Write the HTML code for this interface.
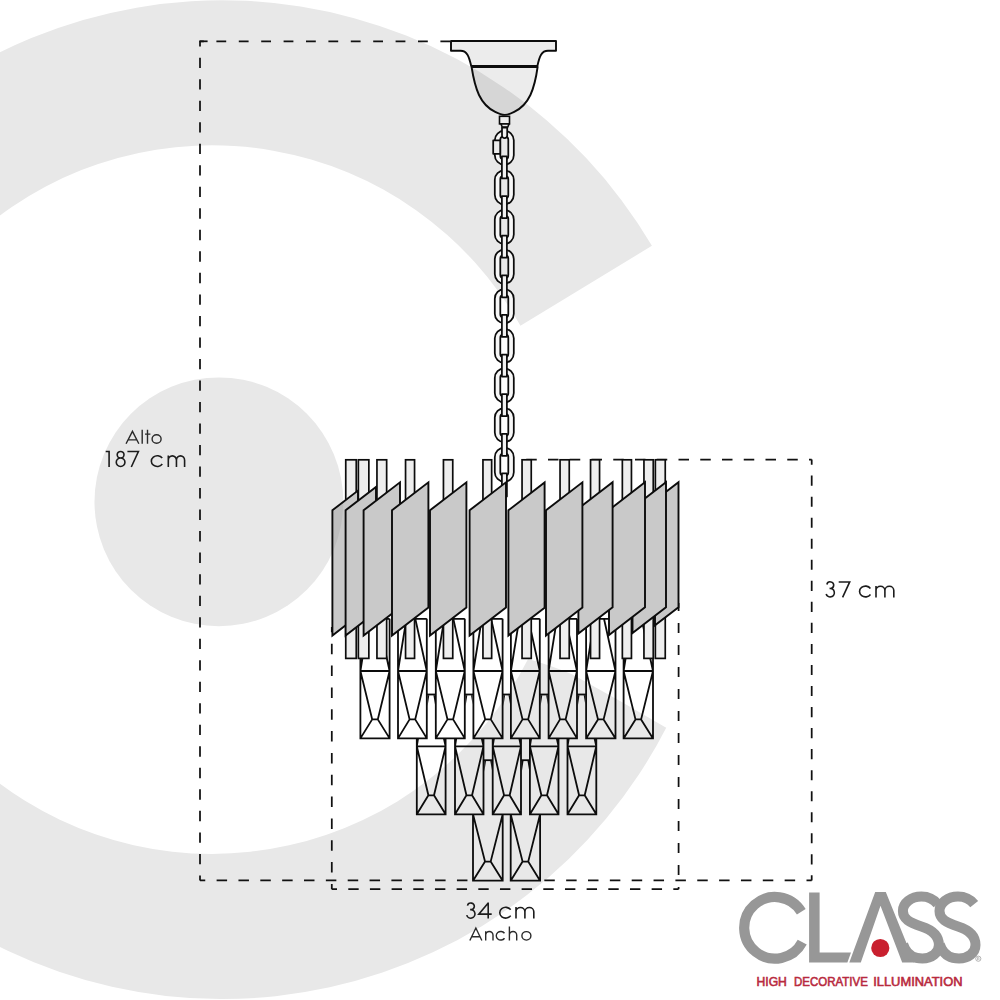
<!DOCTYPE html>
<html><head><meta charset="utf-8"><style>html,body{margin:0;padding:0;background:#fff}svg{display:block}text{font-family:"Liberation Sans",sans-serif}</style></head><body>
<svg width="1000" height="1000" viewBox="0 0 1000 1000">
<rect width="1000" height="1000" fill="#fff"/>
<path d="M666.23,727.66 A499.4,499.4 0 1 1 651.93,245.78 L520.43,325.78 A354.3,354.3 0 1 0 528.08,659.07 Q548,664.5 572,674.2 L620,701 Z" fill="#e8e8e8"/>
<circle cx="218.9" cy="501.8" r="124.4" fill="#e8e8e8"/>
<g stroke="#111" stroke-width="1.75" fill="none">
<path d="M200.0,41.3 L200.0,880.4" stroke-dasharray="10.33 11.19" stroke-dashoffset="5.16"/>
<path d="M200,41.3 H450.2" stroke-dasharray="9.8 12.6" stroke-dashoffset="6"/><path d="M199.2,41.3 H207.6"/>
<path d="M200,880.4 H473" stroke-dasharray="10.49 11.36" stroke-dashoffset="5.24"/>
<path d="M540.5,880.4 H811.7" stroke-dasharray="10.49 11.36" stroke-dashoffset="18.05"/>
<path d="M331.8,889.2 L331.8,627.1" stroke-dasharray="10.48 11.36" stroke-dashoffset="5.24"/>
<path d="M331.8,889.2 L678.6,889.2" stroke-dasharray="10.40 11.27" stroke-dashoffset="5.20"/>
<path d="M678.6,889.2 V603" stroke-dasharray="10.2 11.8" stroke-dashoffset="7.9"/>
<path d="M811.7,459.6 L811.7,880.4" stroke-dasharray="10.10 10.94" stroke-dashoffset="5.05"/>
<path d="M811.7,459.6 H520" stroke-dasharray="10.5 11.25" stroke-dashoffset="7.8"/>
</g>
<g stroke="#0c0c0c" stroke-width="1.9" stroke-linejoin="round" fill="rgba(0,0,0,0.075)">
<path d="M451,41 H556 V50.8 H548 C541.5,50.8 539.5,56 537.4,66 H471.2 C469,56 467,50.8 460.5,50.8 H451 Z"/>
<path d="M471.6,67 C473.3,78 475.8,88 479,95 C482.8,103 488.3,108.6 495.2,111.9 C498.5,113.6 501.8,114.9 504.7,114.9 C507.6,114.9 510.9,113.6 514.2,111.9 C521.1,108.6 526.6,103 530.4,95 C533.6,88 536.1,78 537.6,67 Z"/>
</g>
<path d="M471,66.6 H537.5" stroke="#0c0c0c" stroke-width="2.4"/>
<g stroke="#0c0c0c" stroke-width="1.6" fill="#ededed">
<rect x="499.5" y="116.3" width="10" height="7.6"/>
<path d="M501,124 L502.2,127 H507.8 L509,124 Z"/>
</g>
<g stroke="#0c0c0c" stroke-width="1.75" stroke-linejoin="round">
<path d="M504.3,130.73 H504.29999999999995 A9.5,9.5 0 0 1 513.8,140.23 V155.23 A9.5,9.5 0 0 1 504.29999999999995,164.73 H504.3 A9.5,9.5 0 0 1 494.8,155.23 V140.23 A9.5,9.5 0 0 1 504.3,130.73 Z M503.3,136.57999999999998 H505.3 A3.0,3.0 0 0 1 508.3,139.57999999999998 V155.88 A3.0,3.0 0 0 1 505.3,158.88 H503.3 A3.0,3.0 0 0 1 500.3,155.88 V139.57999999999998 A3.0,3.0 0 0 1 503.3,136.57999999999998 Z" fill="#f7f7f7" fill-rule="evenodd"/>
<rect x="493.2" y="140.4" width="7" height="13.4" fill="#ededed"/>
<path d="M502,127.5 V135.5 A2.6,2.6 0 0 0 507.2,135.5 V127.5 Z" fill="#f1f1f1"/>
<path d="M504.3,170.35 H504.29999999999995 A9.5,9.5 0 0 1 513.8,179.85 V194.85 A9.5,9.5 0 0 1 504.29999999999995,204.35 H504.3 A9.5,9.5 0 0 1 494.8,194.85 V179.85 A9.5,9.5 0 0 1 504.3,170.35 Z M503.3,176.2 H505.3 A3.0,3.0 0 0 1 508.3,179.2 V195.5 A3.0,3.0 0 0 1 505.3,198.5 H503.3 A3.0,3.0 0 0 1 500.3,195.5 V179.2 A3.0,3.0 0 0 1 503.3,176.2 Z" fill="#f7f7f7" fill-rule="evenodd"/>
<path d="M504.3,209.97 H504.29999999999995 A9.5,9.5 0 0 1 513.8,219.47 V234.47 A9.5,9.5 0 0 1 504.29999999999995,243.97 H504.3 A9.5,9.5 0 0 1 494.8,234.47 V219.47 A9.5,9.5 0 0 1 504.3,209.97 Z M503.3,215.82 H505.3 A3.0,3.0 0 0 1 508.3,218.82 V235.12 A3.0,3.0 0 0 1 505.3,238.12 H503.3 A3.0,3.0 0 0 1 500.3,235.12 V218.82 A3.0,3.0 0 0 1 503.3,215.82 Z" fill="#f7f7f7" fill-rule="evenodd"/>
<path d="M504.3,249.58999999999997 H504.29999999999995 A9.5,9.5 0 0 1 513.8,259.09 V274.09 A9.5,9.5 0 0 1 504.29999999999995,283.59 H504.3 A9.5,9.5 0 0 1 494.8,274.09 V259.09 A9.5,9.5 0 0 1 504.3,249.58999999999997 Z M503.3,255.43999999999997 H505.3 A3.0,3.0 0 0 1 508.3,258.43999999999994 V274.73999999999995 A3.0,3.0 0 0 1 505.3,277.73999999999995 H503.3 A3.0,3.0 0 0 1 500.3,274.73999999999995 V258.43999999999994 A3.0,3.0 0 0 1 503.3,255.43999999999997 Z" fill="#f7f7f7" fill-rule="evenodd"/>
<path d="M504.3,289.21 H504.29999999999995 A9.5,9.5 0 0 1 513.8,298.71 V313.71 A9.5,9.5 0 0 1 504.29999999999995,323.21 H504.3 A9.5,9.5 0 0 1 494.8,313.71 V298.71 A9.5,9.5 0 0 1 504.3,289.21 Z M503.3,295.06 H505.3 A3.0,3.0 0 0 1 508.3,298.06 V314.36 A3.0,3.0 0 0 1 505.3,317.36 H503.3 A3.0,3.0 0 0 1 500.3,314.36 V298.06 A3.0,3.0 0 0 1 503.3,295.06 Z" fill="#f7f7f7" fill-rule="evenodd"/>
<path d="M504.3,328.83 H504.29999999999995 A9.5,9.5 0 0 1 513.8,338.33 V353.33 A9.5,9.5 0 0 1 504.29999999999995,362.83 H504.3 A9.5,9.5 0 0 1 494.8,353.33 V338.33 A9.5,9.5 0 0 1 504.3,328.83 Z M503.3,334.68 H505.3 A3.0,3.0 0 0 1 508.3,337.68 V353.98 A3.0,3.0 0 0 1 505.3,356.98 H503.3 A3.0,3.0 0 0 1 500.3,353.98 V337.68 A3.0,3.0 0 0 1 503.3,334.68 Z" fill="#f7f7f7" fill-rule="evenodd"/>
<path d="M504.3,368.45 H504.29999999999995 A9.5,9.5 0 0 1 513.8,377.95 V392.95 A9.5,9.5 0 0 1 504.29999999999995,402.45 H504.3 A9.5,9.5 0 0 1 494.8,392.95 V377.95 A9.5,9.5 0 0 1 504.3,368.45 Z M503.3,374.3 H505.3 A3.0,3.0 0 0 1 508.3,377.3 V393.6 A3.0,3.0 0 0 1 505.3,396.6 H503.3 A3.0,3.0 0 0 1 500.3,393.6 V377.3 A3.0,3.0 0 0 1 503.3,374.3 Z" fill="#f7f7f7" fill-rule="evenodd"/>
<path d="M504.3,408.06999999999994 H504.29999999999995 A9.5,9.5 0 0 1 513.8,417.56999999999994 V432.56999999999994 A9.5,9.5 0 0 1 504.29999999999995,442.06999999999994 H504.3 A9.5,9.5 0 0 1 494.8,432.56999999999994 V417.56999999999994 A9.5,9.5 0 0 1 504.3,408.06999999999994 Z M503.3,413.91999999999996 H505.3 A3.0,3.0 0 0 1 508.3,416.91999999999996 V433.21999999999997 A3.0,3.0 0 0 1 505.3,436.21999999999997 H503.3 A3.0,3.0 0 0 1 500.3,433.21999999999997 V416.91999999999996 A3.0,3.0 0 0 1 503.3,413.91999999999996 Z" fill="#f7f7f7" fill-rule="evenodd"/>
<path d="M504.3,447.68999999999994 H504.29999999999995 A9.5,9.5 0 0 1 513.8,457.18999999999994 V472.18999999999994 A9.5,9.5 0 0 1 504.29999999999995,481.68999999999994 H504.3 A9.5,9.5 0 0 1 494.8,472.18999999999994 V457.18999999999994 A9.5,9.5 0 0 1 504.3,447.68999999999994 Z M503.3,453.53999999999996 H505.3 A3.0,3.0 0 0 1 508.3,456.53999999999996 V472.84 A3.0,3.0 0 0 1 505.3,475.84 H503.3 A3.0,3.0 0 0 1 500.3,472.84 V456.53999999999996 A3.0,3.0 0 0 1 503.3,453.53999999999996 Z" fill="#f7f7f7" fill-rule="evenodd"/>
<rect x="501.9" y="156.48" width="5.0" height="22.0" fill="#f1f1f1"/>
<rect x="501.9" y="196.10" width="5.0" height="22.0" fill="#f1f1f1"/>
<rect x="501.9" y="235.72" width="5.0" height="22.0" fill="#f1f1f1"/>
<rect x="501.9" y="275.34" width="5.0" height="22.0" fill="#f1f1f1"/>
<rect x="501.9" y="314.96" width="5.0" height="22.0" fill="#f1f1f1"/>
<rect x="501.9" y="354.58" width="5.0" height="22.0" fill="#f1f1f1"/>
<rect x="501.9" y="394.20" width="5.0" height="22.0" fill="#f1f1f1"/>
<rect x="501.9" y="433.82" width="5.0" height="22.0" fill="#f1f1f1"/>
<rect x="501.9" y="473.44" width="5.0" height="23" fill="#f1f1f1"/>
</g>
<g stroke="#0c0c0c" stroke-width="1.8" fill="none" stroke-linejoin="miter">
<path d="M360.4,618.8 V738.4 H389.6 V618.8 M360.4,618.8 H389.6 M360.4,671.0 H389.6 M360.4,671.0 L368.80,618.8 M389.6,671.0 L378.10,618.8 M360.4,671.0 L372.2,719.4 H377.8 L389.6,671.0 M372.2,719.4 L360.4,738.4 M377.8,719.4 L389.6,738.4"/>
<path d="M398.0,618.8 V738.4 H426.8 V618.8 M398.0,618.8 H426.8 M398.0,671.0 H426.8 M398.0,671.0 L406.40,618.8 M426.8,671.0 L415.30,618.8 M398.0,671.0 L409.59999999999997,719.4 H415.2 L426.8,671.0 M409.59999999999997,719.4 L398.0,738.4 M415.2,719.4 L426.8,738.4"/>
<path d="M435.8,618.8 V738.4 H464.8 V618.8 M435.8,618.8 H464.8 M435.8,671.0 H464.8 M435.8,671.0 L444.20,618.8 M464.8,671.0 L453.30,618.8 M435.8,671.0 L447.5,719.4 H453.1 L464.8,671.0 M447.5,719.4 L435.8,738.4 M453.1,719.4 L464.8,738.4"/>
<path d="M473.4,618.8 V738.4 H502.6 V618.8 M473.4,618.8 H502.6 M473.4,671.0 H502.6 M473.4,671.0 L481.80,618.8 M502.6,671.0 L491.10,618.8 M473.4,671.0 L485.2,719.4 H490.8 L502.6,671.0 M485.2,719.4 L473.4,738.4 M490.8,719.4 L502.6,738.4"/>
<path d="M510.9,618.8 V738.4 H539.8 V618.8 M510.9,618.8 H539.8 M510.9,671.0 H539.8 M510.9,671.0 L519.30,618.8 M539.8,671.0 L528.30,618.8 M510.9,671.0 L522.55,719.4 H528.1499999999999 L539.8,671.0 M522.55,719.4 L510.9,738.4 M528.1499999999999,719.4 L539.8,738.4"/>
<path d="M548.6,618.8 V738.4 H577.0 V618.8 M548.6,618.8 H577.0 M548.6,671.0 H577.0 M548.6,671.0 L557.00,618.8 M577.0,671.0 L565.50,618.8 M548.6,671.0 L560.0,719.4 H565.5999999999999 L577.0,671.0 M560.0,719.4 L548.6,738.4 M565.5999999999999,719.4 L577.0,738.4"/>
<path d="M586.1,618.8 V738.4 H615.5 V618.8 M586.1,618.8 H615.5 M586.1,671.0 H615.5 M586.1,671.0 L594.50,618.8 M615.5,671.0 L604.00,618.8 M586.1,671.0 L598.0,719.4 H603.5999999999999 L615.5,671.0 M598.0,719.4 L586.1,738.4 M603.5999999999999,719.4 L615.5,738.4"/>
<path d="M623.6,618.8 V738.4 H653.0 V618.8 M623.6,618.8 H653.0 M623.6,671.0 H653.0 M623.6,671.0 L632.00,618.8 M653.0,671.0 L641.50,618.8 M623.6,671.0 L635.5,719.4 H641.0999999999999 L653.0,671.0 M635.5,719.4 L623.6,738.4 M641.0999999999999,719.4 L653.0,738.4"/>
<path d="M426.8,694.5 H435.8"/>
<path d="M427.6,695.3 H429.3 L427.6,706.0 Z M435.0,695.3 H433.40000000000003 L435.0,704.5 Z" fill="#0c0c0c" stroke="none"/>
<path d="M464.8,694.5 H473.4"/>
<path d="M465.6,695.3 H467.3 L465.6,706.0 Z M472.59999999999997,695.3 H471.0 L472.59999999999997,704.5 Z" fill="#0c0c0c" stroke="none"/>
<path d="M502.6,694.5 H510.9"/>
<path d="M503.40000000000003,695.3 H505.1 L503.40000000000003,706.0 Z M510.09999999999997,695.3 H508.5 L510.09999999999997,704.5 Z" fill="#0c0c0c" stroke="none"/>
<path d="M539.8,694.5 H548.6"/>
<path d="M540.5999999999999,695.3 H542.3 L540.5999999999999,706.0 Z M547.8000000000001,695.3 H546.2 L547.8000000000001,704.5 Z" fill="#0c0c0c" stroke="none"/>
<path d="M577.0,694.5 H586.1"/>
<path d="M577.8,695.3 H579.5 L577.8,706.0 Z M585.3000000000001,695.3 H583.7 L585.3000000000001,704.5 Z" fill="#0c0c0c" stroke="none"/>
<path d="M416.8,738.4 V814.3 H445.6 V738.4 M416.8,746.3 H445.6 M416.8,746.3 L418.08,738.4 M445.6,746.3 L443.85,738.4 M416.8,746.3 L428.40000000000003,795.3 H434.00000000000006 L445.6,746.3 M428.40000000000003,795.3 L416.8,814.3 M434.00000000000006,795.3 L445.6,814.3"/>
<path d="M455.0,738.4 V814.3 H483.5 V738.4 M455.0,746.3 H483.5 M455.0,746.3 L456.28,738.4 M483.5,746.3 L481.75,738.4 M455.0,746.3 L466.45,795.3 H472.05 L483.5,746.3 M466.45,795.3 L455.0,814.3 M472.05,795.3 L483.5,814.3"/>
<path d="M492.7,738.4 V814.3 H521.0 V738.4 M492.7,746.3 H521.0 M492.7,746.3 L493.98,738.4 M521.0,746.3 L519.25,738.4 M492.7,746.3 L504.05,795.3 H509.65000000000003 L521.0,746.3 M504.05,795.3 L492.7,814.3 M509.65000000000003,795.3 L521.0,814.3"/>
<path d="M529.9,738.4 V814.3 H558.5 V738.4 M529.9,746.3 H558.5 M529.9,746.3 L531.18,738.4 M558.5,746.3 L556.75,738.4 M529.9,746.3 L541.4000000000001,795.3 H547.0 L558.5,746.3 M541.4000000000001,795.3 L529.9,814.3 M547.0,795.3 L558.5,814.3"/>
<path d="M567.5,738.4 V814.3 H596.3 V738.4 M567.5,746.3 H596.3 M567.5,746.3 L568.78,738.4 M596.3,746.3 L594.55,738.4 M567.5,746.3 L579.1,795.3 H584.6999999999999 L596.3,746.3 M579.1,795.3 L567.5,814.3 M584.6999999999999,795.3 L596.3,814.3"/>
<path d="M483.5,760.2 H492.7"/>
<path d="M484.3,761.0 H486.0 L484.3,771.7 Z M491.9,761.0 H490.3 L491.9,770.2 Z" fill="#0c0c0c" stroke="none"/>
<path d="M521.0,760.2 H529.9"/>
<path d="M521.8,761.0 H523.5 L521.8,771.7 Z M529.1,761.0 H527.5 L529.1,770.2 Z" fill="#0c0c0c" stroke="none"/>
<path d="M473.0,814.3 V880.7 H502.7 V814.3 M473.0,814.3 L485.05,861.6 H490.65000000000003 L502.7,814.3 M485.05,861.6 L473.0,880.7 M490.65000000000003,861.6 L502.7,880.7"/>
<path d="M510.7,814.3 V880.7 H540.1 V814.3 M510.7,814.3 L522.6,861.6 H528.1999999999999 L540.1,814.3 M522.6,861.6 L510.7,880.7 M528.1999999999999,861.6 L540.1,880.7"/>
</g>
<g stroke="#0c0c0c" stroke-width="1.7" fill="#eeeeee">
<rect x="345.75" y="459.8" width="10.50" height="198.6"/>
<rect x="358.35" y="459.8" width="10.50" height="198.6"/>
<rect x="376.95" y="459.8" width="9.70" height="198.6"/>
<rect x="405.55" y="459.8" width="9.00" height="198.6"/>
<rect x="443.45" y="459.8" width="9.30" height="198.6"/>
<rect x="482.95" y="459.8" width="8.70" height="198.6"/>
<rect x="522.05" y="459.8" width="9.20" height="198.6"/>
<rect x="560.05" y="459.8" width="9.20" height="198.6"/>
<rect x="590.55" y="459.8" width="9.00" height="198.6"/>
<rect x="622.35" y="459.8" width="9.10" height="198.6"/>
<rect x="643.95" y="459.8" width="9.30" height="198.6"/>
<rect x="655.35" y="459.8" width="9.90" height="198.6"/>
</g>
<g stroke="#0c0c0c" stroke-width="1.9" fill="#c9c9c9" stroke-linejoin="miter">
<polygon points="332.4,510.3 358,490.61 358,615.81 332.4,635.5"/>
<polygon points="345.6,510.3 376,486.92 376,612.12 345.6,635.5"/>
<polygon points="363.6,510.3 400,482.31 400,607.51 363.6,635.5"/>
<polygon points="392,510.3 428.4,482.31 428.4,607.51 392,635.5"/>
<polygon points="430,510.3 466.4,482.31 466.4,607.51 430,635.5"/>
<polygon points="469.6,510.3 506,482.31 506,607.51 469.6,635.5"/>
<polygon points="508.4,510.3 544.6,482.46 544.6,607.66 508.4,635.5"/>
<polygon points="655,500.37 678.5,482.3 678.5,607.3 655,625.37"/>
<polygon points="632.5,508.06 666,482.3 666,607.3 632.5,633.06"/>
<polygon points="609,509.98 645,482.3 645,607.3 609,634.98"/>
<polygon points="578.4,508.60 612.6,482.3 612.6,607.3 578.4,633.60"/>
<polygon points="546,510.3 582.4,482.31 582.4,607.51 546,635.5"/>
</g>
<clipPath id="p1c"><polygon points="333.4,511 345,502 345,628 333.4,634"/></clipPath>
<circle cx="218.9" cy="501.8" r="124.4" fill="rgba(0,0,0,0.055)" clip-path="url(#p1c)"/>
<g fill="none" stroke="#1c1c1c" stroke-width="1.6" stroke-linejoin="miter" stroke-miterlimit="3">
<path d="M105.69999999999999,451.55 H109.1 M109.1,450.8 V467.0 M117.19999999999999,454.75 A3.4,3.3 0 1 1 124.0,454.75 A3.4,3.3 0 1 1 117.19999999999999,454.75 Z M116.25,462.25 A4.35,4.2 0 1 1 124.94999999999999,462.25 A4.35,4.2 0 1 1 116.25,462.25 Z M127.4,451.55 H138.4 L131.3,467.0 M162.29,464.04 A5.95,5.4 0 1 1 162.23,458.08 M168.3,467.0 V455.5 M168.3,460.15000000000003 A4.075,4.3 0 0 1 176.45000000000002,460.15000000000003 V467.0 M176.45000000000002,460.15000000000003 A4.075,4.3 0 0 1 184.60000000000002,460.15000000000003 V467.0"/>
<path d="M826.88,584.46 A3.45,3.3 0 1 1 829.65,588.40 M829.57,588.49 A4.2,4.25 0 1 1 826.13,593.94 M838.7,581.9499999999999 H849.7 L842.6,597.4 M870.49,594.44 A5.95,5.4 0 1 1 870.43,588.48 M876.0,597.4 V585.9 M876.0,590.55 A4.45,4.3 0 0 1 884.9,590.55 V597.4 M884.9,590.55 A4.45,4.3 0 0 1 893.8,590.55 V597.4"/>
<path d="M467.48,905.66 A3.45,3.3 0 1 1 470.25,909.60 M470.17,909.69 A4.2,4.25 0 1 1 466.73,915.14 M491.7,914.15 H478.8 L488.0,903.3 M488.2,902.4 V918.6 M510.69,915.64 A5.95,5.4 0 1 1 510.63,909.68 M516.0,918.6 V907.1 M516.0,911.75 A4.45,4.3 0 0 1 524.9,911.75 V918.6 M524.9,911.75 A4.45,4.3 0 0 1 533.8,911.75 V918.6"/>
</g>
<g fill="none" stroke="#2b2b2b" stroke-width="1.4" stroke-linejoin="miter" stroke-miterlimit="5">
<path d="M126.05,443.7 L132.45,431.35 L138.85,443.7 M128.02,439.9 H136.88 M142.2,429.8 V443.7 M147.5,429.8 V443.7 M145.0,434.09999999999997 H150.4 M152.1,439.05 A4.5,4.25 0 1 1 161.1,439.05 A4.5,4.25 0 1 1 152.1,439.05 Z"/>
<path d="M469.85,940.5 L475.85,928.0500000000001 L481.85,940.5 M471.68,936.7 H480.02 M485.7,940.5 V931.2 M485.7,935.05 A3.65,3.6 0 0 1 493.0,935.05 V940.5 M504.53,938.22 A4.55,4.3 0 1 1 504.48,933.22 M509.4,940.5 V926.6 M509.4,935.05 A3.65,3.6 0 0 1 516.6999999999999,935.05 V940.5 M521.9,935.85 A4.5,4.25 0 1 1 530.9,935.85 A4.5,4.25 0 1 1 521.9,935.85 Z"/>
</g>
<path d="M801.29,911.75 A30.8,30.8 0 1 0 802.25,942.16" fill="none" stroke="#979797" stroke-width="10.2"/>
<polygon points="809.1,892.6 819.6,892.6 819.6,952.5 851,952.5 847.4,962.4 809.1,962.4" fill="#979797"/>
<polygon points="849.3,962.4 875.2,892 885.8,892 914.3,962.4 902.2,962.4 880.5,905.8 860.8,962.4" fill="#979797"/>
<path d="M974.2,904.2 C970.5,899.5 964.5,896.6 958,896.6 C947.8,896.6 939.5,903 939.5,911 C939.5,919 946,922.5 958,926.5 C969,930 975.5,935.5 975.5,945 C975.5,953 968,958.5 959,958.5 C950.5,958.5 944.5,954.5 941.5,948.5 L939.8,944.5" fill="none" stroke="#979797" stroke-width="10"/>
<path d="M974.2,904.2 C970.5,899.5 964.5,896.6 958,896.6 C947.8,896.6 939.5,903 939.5,911 C939.5,919 946,922.5 958,926.5 C969,930 975.5,935.5 975.5,945 C975.5,953 968,958.5 959,958.5 C950.5,958.5 944.5,954.5 941.5,948.5 L939.8,944.5" fill="none" stroke="#979797" stroke-width="10" transform="translate(-36.6,0)"/>
<circle cx="880.3" cy="948" r="9.1" fill="#c9202f"/>
<circle cx="978.3" cy="958.7" r="2.6" fill="none" stroke="#979797" stroke-width="0.7"/>
<path d="M977.5,960.1 V957.4 H978.5 a0.75,0.75 0 0 1 0,1.5 H977.5 M978.5,958.9 L979.4,960.1" fill="none" stroke="#979797" stroke-width="0.5"/>
<g font-size="13" fill="#b8283c" stroke="#b8283c" stroke-width="0.6" opacity="0.99">
<text x="756.5" y="986.2" textLength="30.4" lengthAdjust="spacingAndGlyphs">HIGH</text>
<text x="794" y="986.2" textLength="73.8" lengthAdjust="spacingAndGlyphs">DECORATIVE</text>
<text x="873.2" y="986.2" textLength="89.3" lengthAdjust="spacingAndGlyphs">ILLUMINATION</text>
</g>
</svg></body></html>
